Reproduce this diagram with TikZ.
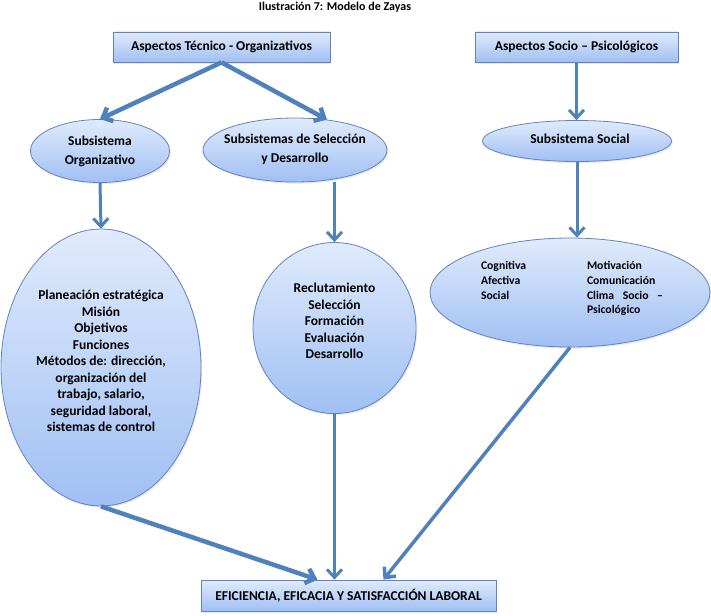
\documentclass[tikz,border=0pt]{standalone}
\usepackage{fontspec}
\setmainfont{Carlito}
\usetikzlibrary{arrows.meta,shadows,calc,shapes.geometric}
\definecolor{fillTop}{RGB}{224,235,252}
\definecolor{fillBot}{RGB}{160,191,243}
\definecolor{edgeC}{RGB}{96,132,192}
\definecolor{arrC}{RGB}{79,129,189}
\begin{document}
\begin{tikzpicture}[x=1pt,y=-1pt,
  shp/.style={draw=edgeC, line width=0.8pt, top color=fillTop, bottom color=fillBot,
    drop shadow={opacity=0.18,shadow xshift=1.2pt,shadow yshift=-1.6pt}},
  boxn/.style={shp, rectangle, inner sep=0pt, font=\bfseries\fontsize{13.5}{15}\selectfont},
  elln/.style={shp, ellipse, inner sep=0pt},
  txt/.style={font=\bfseries\fontsize{13.5}{16.5}\selectfont, align=center, inner sep=0pt},
  txtb/.style={font=\bfseries\fontsize{13.5}{19}\selectfont, align=center, inner sep=0pt},
  txts/.style={font=\bfseries\fontsize{11.7}{14.7}\selectfont, inner sep=0pt},
  arr/.style={draw=arrC, line width=#1, -{Straight Barb[length=8pt,width=15pt]}},
]
\useasboundingbox (0,0) rectangle (711,615);

\node[font=\bfseries\fontsize{12}{13}\selectfont, anchor=base] (title) at (335,11) {Ilustración 7: Modelo de Zayas};

\node[boxn, minimum width=217pt, minimum height=30pt] (top1) at (221.5,47) {Aspectos Técnico - Organizativos};
\node[boxn, minimum width=203pt, minimum height=30pt] (top2) at (576.5,47) {Aspectos Socio – Psicológicos};

\node[elln, minimum width=139pt, minimum height=63pt] (org) at (100,151) {};
\node[txtb] (orgT) at (100,151) {Subsistema\\Organizativo};
\node[elln, minimum width=184pt, minimum height=64pt] (sel) at (295,150) {};
\node[txtb] (selT) at (295,149) {Subsistemas de Selección\\y Desarrollo};
\node[elln, minimum width=189pt, minimum height=41pt] (soc) at (577,141) {};
\node[txt] (socT) at (580,139) {Subsistema Social};

\node[elln, minimum width=200pt, minimum height=277pt] (big) at (101,367.5) {};
\node[txt] (bigT) at (101,361) {Planeación estratégica\\Misión\\Objetivos\\Funciones\\Métodos de: dirección,\\organización del\\trabajo, salario,\\seguridad laboral,\\sistemas de control};
\node[elln, minimum width=163pt, minimum height=171pt] (mid) at (334.5,328) {};
\node[txt] (midT) at (334.5,321) {Reclutamiento\\Selección\\Formación\\Evaluación\\Desarrollo};
\node[elln, minimum width=280pt, minimum height=109pt] (rt) at (570,292.5) {};
\node[txts] (rtT) at (572,289) {\begin{tabular}{@{}p{106pt}@{}p{76pt}@{}}
Cognitiva & Motivación\\
Afectiva & Comunicación\\
Social & Clima\hfill Socio\hfill –\\
 & Psicológico
\end{tabular}};

\node[boxn, minimum width=295pt, minimum height=31pt] (bot) at (348.5,595.5) {EFICIENCIA, EFICACIA Y SATISFACCIÓN LABORAL};

\draw[arr=4.5pt] (top1.south) -- (org.north);
\draw[arr=4.5pt] (top1.south) -- ($(sel.north)+(32,2)$);
\draw[arr=3pt] (top2.south) -- (top2.south |- soc.north);
\draw[arr=3pt] (org.south) -- (big.north);
\draw[arr=3pt] (mid.north |- sel.south) -- (mid.north);
\draw[arr=3pt] (soc.south) -- (soc.south |- rt.north);
\draw[arr=4.5pt] (big.south) -- ($(bot.north)+(-31,0)$);
\draw[arr=3pt] (mid.south) -- (mid.south |- bot.north);
\draw[arr=3.5pt] (rt.south) -- ($(bot.north)+(35,0)$);
\end{tikzpicture}
\end{document}
